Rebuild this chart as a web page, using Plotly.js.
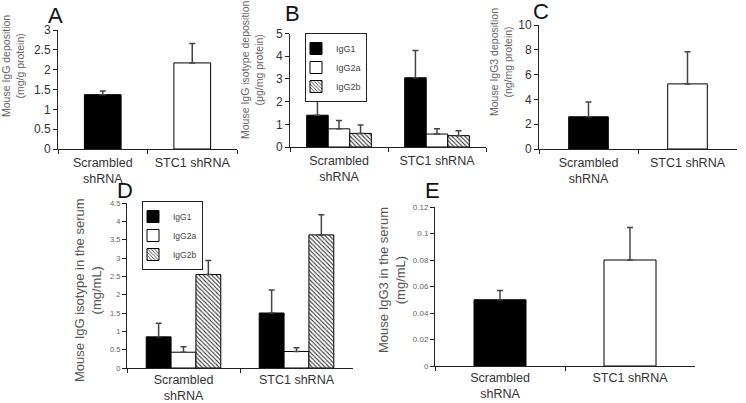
<!DOCTYPE html>
<html><head><meta charset="utf-8">
<script src="https://cdn.plot.ly/plotly-3.0.1.min.js"></script>
<style>html,body{margin:0;padding:0;background:#fff}#chart{width:746px;height:403px}</style>
</head><body><div id="chart"></div>
<script>
// ---- data ----
const groups = ["Scrambled<br>shRNA", "STC1 shRNA"];
const isotypes = ["IgG1", "IgG2a", "IgG2b"];

// Panel A: Mouse IgG deposition (mg/g protein)
const aValues = [1.37, 2.17];
const aErrors = [0.09, 0.49];

// Panel B: Mouse IgG isotype deposition (ug/mg protein)
const bIgG1 = [1.4, 3.05];
const bIgG1Err = [0.65, 1.2];
const bIgG2a = [0.8, 0.57];
const bIgG2aErr = [0.37, 0.23];
const bIgG2b = [0.6, 0.5];
const bIgG2bErr = [0.37, 0.22];

// Panel C: Mouse IgG3 deposition (ng/mg protein)
const cValues = [2.6, 5.25];
const cErrors = [1.2, 2.6];

// Panel D: Mouse IgG isotype in the serum (mg/mL)
const dIgG1 = [0.85, 1.5];
const dIgG1Err = [0.37, 0.63];
const dIgG2a = [0.43, 0.45];
const dIgG2aErr = [0.15, 0.1];
const dIgG2b = [2.55, 3.63];
const dIgG2bErr = [0.38, 0.55];

// Panel E: Mouse IgG3 in the serum (mg/mL)
const eValues = [0.05, 0.08];
const eErrors = [0.007, 0.0245];

// ---- styles ----
const FONT = "Liberation Sans, Arial, sans-serif";
const errStyle = (arr) => ({type: 'data', array: arr, arrayminus: arr.map(() => 0), symmetric: false,
  color: '#444', thickness: 1.5, width: 3});
const outline = {color: '#000', width: 1};
const isoMarkers = [
  {color: '#000', line: outline},
  {color: '#fff', line: outline},
  {color: '#fff', line: outline, pattern: {shape: '\\', fgcolor: '#333', bgcolor: '#fff', size: 3, solidity: 0.35}}
];

const traces = [];
// A
traces.push({type: 'bar', x: groups, y: aValues, xaxis: 'x', yaxis: 'y', width: 0.41,
  marker: {color: ['#000', '#fff'], line: outline}, error_y: errStyle(aErrors), showlegend: false});
// B
[[bIgG1, bIgG1Err], [bIgG2a, bIgG2aErr], [bIgG2b, bIgG2bErr]].forEach((s, i) => {
  traces.push({type: 'bar', name: isotypes[i], x: groups, y: s[0], xaxis: 'x2', yaxis: 'y2',
    marker: isoMarkers[i], error_y: errStyle(s[1]), legend: 'legend'});
});
// C
traces.push({type: 'bar', x: groups, y: cValues, xaxis: 'x3', yaxis: 'y3', width: 0.40,
  marker: {color: ['#000', '#fff'], line: outline}, error_y: errStyle(cErrors), showlegend: false});
// D
[[dIgG1, dIgG1Err], [dIgG2a, dIgG2aErr], [dIgG2b, dIgG2bErr]].forEach((s, i) => {
  traces.push({type: 'bar', name: isotypes[i], x: groups, y: s[0], xaxis: 'x4', yaxis: 'y4',
    marker: isoMarkers[i], error_y: errStyle(s[1]), legend: 'legend2'});
});
// E
traces.push({type: 'bar', x: groups, y: eValues, xaxis: 'x5', yaxis: 'y5', width: 0.40,
  marker: {color: ['#000', '#fff'], line: outline}, error_y: errStyle(eErrors), showlegend: false});

const W = 746, H = 403;
const px = (v) => v / W, py = (v) => 1 - v / H;

function xAxis(l, r, anchor, standoff) {
  return {domain: [px(l), px(r)], anchor: anchor, type: 'category', tickson: 'boundaries',
    ticks: 'outside', ticklen: 4, tickcolor: '#222', showline: true, linecolor: '#222', linewidth: 1,
    showgrid: false, zeroline: false, range: [-0.5, 1.5], fixedrange: true, ticklabelstandoff: standoff,
    tickfont: {family: FONT, size: 12.5, color: '#333'}};
}
function yAxis(bottom, top, anchor, max, dtick, fs, fc) {
  return {domain: [py(bottom), py(top)], anchor: anchor, range: [0, max], dtick: dtick,
    ticks: 'outside', ticklen: 4, tickcolor: '#222', showline: true, linecolor: '#222', linewidth: 1,
    showgrid: false, zeroline: false, fixedrange: true,
    tickfont: {family: FONT, size: fs, color: fc}};
}

function title(x, y, text, size, color) {
  return {xref: 'paper', yref: 'paper', x: px(x), y: py(y), xanchor: 'center', yanchor: 'middle',
    text: text, textangle: -90, showarrow: false, font: {family: FONT, size: size, color: color}};
}
function letter(x, y, text) {
  return {xref: 'paper', yref: 'paper', x: px(x), y: py(y), xanchor: 'center', yanchor: 'middle',
    text: text, showarrow: false, font: {family: FONT, size: 22, color: '#111'}};
}

const layout = {
  width: W, height: H, margin: {l: 0, r: 0, t: 0, b: 0},
  paper_bgcolor: '#fff', plot_bgcolor: '#fff',
  barmode: 'group', bargap: 0.34, bargroupgap: 0,
  font: {family: FONT, color: '#333'},
  xaxis: xAxis(58, 237, 'y', 2),
  yaxis: yAxis(149, 30, 'x', 3, 0.5, 12, '#333'),
  xaxis2: xAxis(290, 486, 'y2', 2),
  yaxis2: yAxis(147, 33.5, 'x2', 5, 1, 12, '#333'),
  xaxis3: xAxis(539, 737, 'y3', 2),
  yaxis3: yAxis(149, 25, 'x3', 10, 2, 12, '#333'),
  xaxis4: xAxis(127, 353, 'y4', 0),
  yaxis4: yAxis(368, 203, 'x4', 4.5, 0.5, 7.5, '#666'),
  xaxis5: xAxis(435, 695, 'y5', 0),
  yaxis5: yAxis(366, 207, 'x5', 0.12, 0.02, 8, '#666'),
  legend: {x: px(305), y: py(33), xanchor: 'left', yanchor: 'top', bgcolor: '#fff',
    bordercolor: '#222', borderwidth: 1, indentation: -10, itemwidth: 30,
    font: {family: FONT, size: 9, color: '#444'}, tracegroupgap: 0},
  legend2: {x: px(142), y: py(201), xanchor: 'left', yanchor: 'top', bgcolor: '#fff',
    bordercolor: '#222', borderwidth: 1, indentation: -10, itemwidth: 30,
    font: {family: FONT, size: 8.5, color: '#444'}, tracegroupgap: 0},
  annotations: [
    title(13, 66, 'Mouse IgG deposition<br>(mg/g protein)', 10.5, '#666'),
    title(252, 70, 'Mouse IgG isotype deposition<br>(μg/mg protein)', 10.5, '#666'),
    title(501, 62, 'Mouse IgG3 deposition<br>(ng/mg protein)', 10.5, '#666'),
    title(88, 290, 'Mouse IgG isotype in the serum<br>(mg/mL)', 13, '#555'),
    title(392, 280, 'Mouse IgG3 in the serum<br>(mg/mL)', 13, '#555'),
    letter(56, 15, 'A'), letter(292, 14, 'B'), letter(541, 12, 'C'),
    letter(125, 190, 'D'), letter(432, 190, 'E')
  ]
};

Plotly.newPlot('chart', traces, layout, {displayModeBar: false, staticPlot: true});
</script>
</body></html>
